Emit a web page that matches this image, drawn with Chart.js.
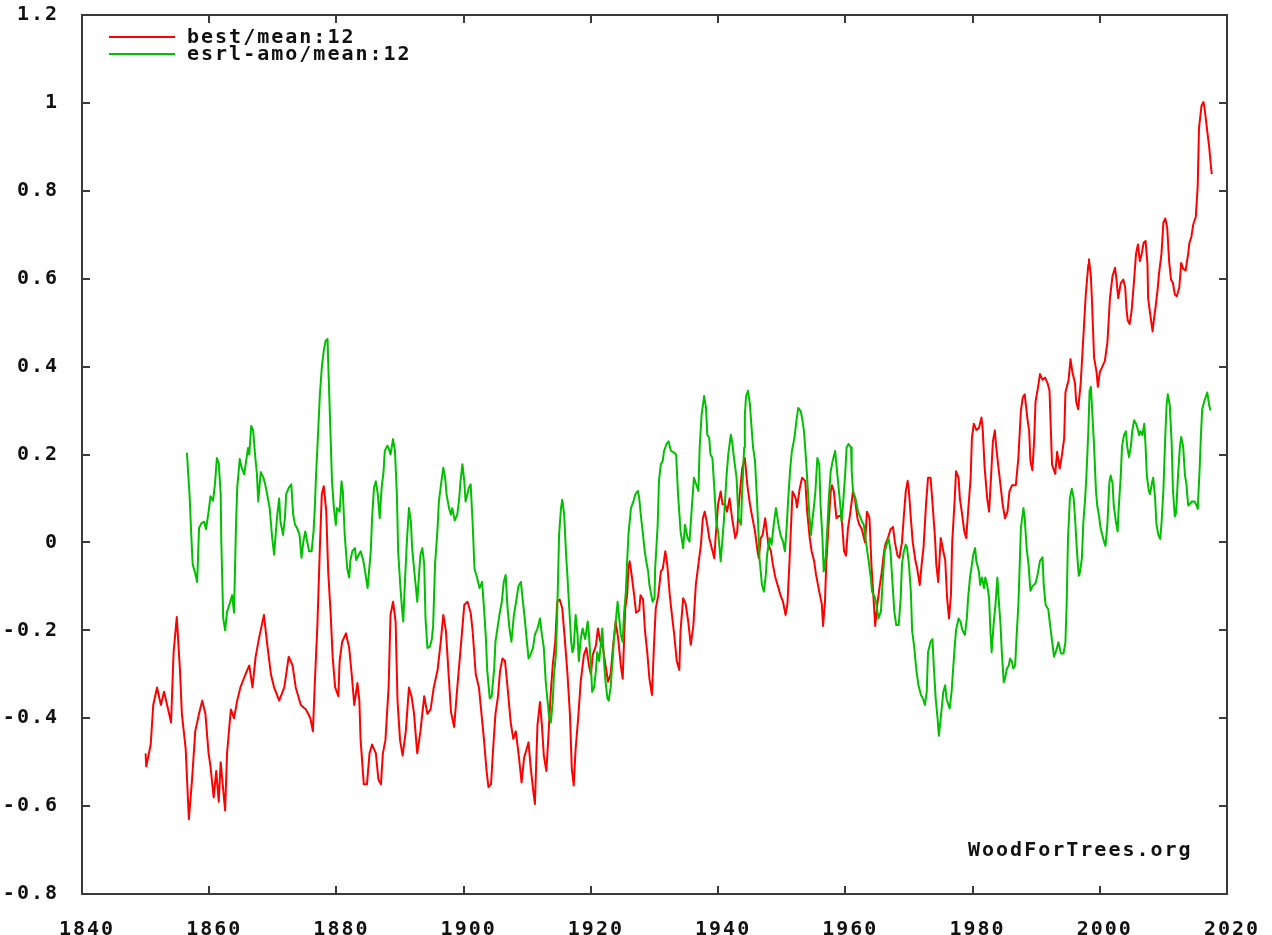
<!DOCTYPE html>
<html>
<head>
<meta charset="utf-8">
<title>best/mean:12 and esrl-amo/mean:12</title>
<script src="https://cdn.jsdelivr.net/npm/chart.js"></script>
<style>
  html, body { margin: 0; padding: 0; background: #ffffff; }
  #c { display: block; }
</style>
</head>
<body>
<canvas id="c" width="1272" height="935"></canvas>
<script>
// ---- Series 1: best/mean:12 (years, values) ----
const bestYears = [
  1850.0,1850.1,1850.8,1851.2,1851.8,1852.4,1852.9,1853.7,1854.0,1854.4,1854.9,1855.4,1855.7,1856.3,1856.8,1857.3,1857.8,1858.4,1858.9,1859.4,1859.9,
  1860.2,1860.7,1861.1,1861.5,1861.8,1862.5,1862.8,1863.4,1863.9,1864.4,1864.9,1865.7,1866.3,1866.8,1867.3,1867.8,1868.6,1869.1,1869.7,
  1870.2,1871.0,1871.8,1872.5,1873.1,1873.6,1874.4,1875.2,1875.9,1876.3,1876.6,1877.0,1877.4,1877.7,1878.0,1878.4,1878.7,1879.1,1879.4,1879.8,
  1880.3,1880.5,1880.9,1881.5,1882.0,1882.4,1882.8,1883.3,1883.6,1883.8,1884.3,1884.8,1885.2,1885.6,1886.2,1886.6,1887.0,1887.3,1887.7,1888.2,1888.5,1888.9,1889.3,1889.6,
  1890.0,1890.4,1890.9,1891.4,1891.8,1892.2,1892.7,1893.2,1893.8,1894.3,1894.8,1895.3,1895.9,1896.4,1896.8,1897.2,1897.4,1898.0,1898.5,1899.0,1899.5,
  1900.1,1900.6,1901.1,1901.4,1901.9,1902.4,1903.2,1903.6,1903.9,1904.3,1904.6,1905.0,1905.4,1905.7,1906.1,1906.5,1906.9,1907.4,1907.8,1908.2,1908.7,1909.1,1909.5,
  1910.2,1910.5,1910.9,1911.2,1911.6,1912.0,1912.3,1912.6,1913.0,1913.3,1913.7,1914.0,1914.4,1914.7,1915.1,1915.5,1915.9,1916.3,1916.7,1917.0,1917.3,1917.6,1918.0,1918.4,1918.9,1919.3,1919.7,
  1920.0,1920.3,1920.8,1921.1,1921.5,1921.9,1922.3,1922.7,1923.1,1923.5,1923.9,1924.3,1924.7,1925.0,1925.4,1925.7,1925.9,1926.1,1926.4,1926.8,1927.1,1927.6,1927.8,1928.2,1928.5,1928.9,1929.2,1929.6,1929.9,
  1930.2,1930.6,1931.0,1931.3,1931.7,1932.0,1932.4,1932.7,1933.1,1933.5,1933.9,1934.1,1934.5,1934.9,1935.3,1935.7,1936.1,1936.5,1936.9,1937.3,1937.6,1937.9,1938.3,1938.6,1939.0,1939.4,1939.6,
  1940.0,1940.4,1940.7,1941.1,1941.4,1941.8,1942.2,1942.7,1943.0,1943.3,1943.6,1943.8,1944.2,1944.6,1945.0,1945.4,1945.8,1946.2,1946.4,1946.7,1947.0,1947.4,1947.9,1948.3,1948.6,1949.0,1949.5,1949.8,
  1950.2,1950.6,1950.9,1951.2,1951.5,1951.7,1952.2,1952.4,1952.8,1953.2,1953.7,1954.0,1954.4,1954.7,1955.1,1955.4,1955.9,1956.3,1956.5,1956.8,1957.0,1957.3,1957.7,1957.9,1958.2,1958.6,1959.0,1959.4,1959.8,
  1960.1,1960.4,1960.8,1961.2,1961.5,1961.9,1962.2,1962.6,1963.1,1963.4,1963.8,1964.1,1964.4,1964.7,1965.0,1965.4,1965.7,1966.1,1966.3,1966.7,1967.1,1967.5,1967.8,1968.2,1968.5,1968.9,1969.2,1969.5,1969.8,
  1970.0,1970.3,1970.6,1971.0,1971.3,1971.7,1972.0,1972.3,1972.7,1973.0,1973.4,1973.7,1974.1,1974.3,1974.6,1975.0,1975.4,1975.7,1976.0,1976.3,1976.6,1976.8,1977.2,1977.4,1977.8,1978.0,1978.3,1978.7,1979.0,1979.3,1979.7,1979.9,
  1980.2,1980.6,1981.0,1981.4,1981.6,1981.9,1982.3,1982.6,1982.9,1983.2,1983.5,1983.7,1984.0,1984.4,1984.7,1985.1,1985.5,1985.8,1986.2,1986.8,1987.2,1987.6,1987.9,1988.2,1988.6,1988.9,1989.1,1989.4,1989.7,1989.9,
  1990.3,1990.6,1991.0,1991.4,1991.8,1992.1,1992.3,1992.5,1993.0,1993.3,1993.7,1994.0,1994.4,1994.6,1995.1,1995.4,1995.7,1996.1,1996.3,1996.6,1997.0,1997.4,1997.8,1998.2,1998.3,1998.6,1998.8,1999.1,1999.5,1999.7,
  2000.0,2000.4,2000.8,2001.2,2001.6,2002.0,2002.4,2002.6,2002.9,2003.3,2003.7,2004.0,2004.2,2004.4,2004.7,2005.0,2005.4,2005.7,2006.0,2006.3,2006.6,2006.9,2007.2,2007.5,2007.6,2007.9,2008.3,2008.5,2008.8,2009.1,2009.3,2009.7,
  2010.0,2010.3,2010.6,2010.9,2011.2,2011.5,2011.8,2012.1,2012.5,2012.8,2013.1,2013.5,2013.9,2014.1,2014.4,2014.7,2015.1,2015.4,2015.6,2016.0,2016.3,2016.5,2016.9,2017.2,2017.4,2017.6
];
const bestValues = [
  -0.48,-0.51,-0.46,-0.37,-0.33,-0.37,-0.34,-0.39,-0.41,-0.25,-0.17,-0.29,-0.39,-0.47,-0.63,-0.54,-0.43,-0.39,-0.36,-0.39,-0.48,
  -0.51,-0.58,-0.52,-0.59,-0.50,-0.61,-0.48,-0.38,-0.40,-0.36,-0.33,-0.30,-0.28,-0.33,-0.26,-0.22,-0.165,-0.23,-0.30,
  -0.33,-0.36,-0.33,-0.26,-0.28,-0.33,-0.37,-0.38,-0.40,-0.43,-0.32,-0.19,-0.01,0.11,0.128,0.07,-0.066,-0.165,-0.26,-0.33,
  -0.35,-0.27,-0.226,-0.207,-0.24,-0.30,-0.37,-0.32,-0.36,-0.45,-0.55,-0.55,-0.48,-0.46,-0.48,-0.54,-0.55,-0.48,-0.45,-0.33,-0.165,-0.135,-0.18,-0.36,
  -0.45,-0.485,-0.43,-0.33,-0.35,-0.39,-0.48,-0.43,-0.35,-0.39,-0.38,-0.33,-0.29,-0.226,-0.165,-0.20,-0.245,-0.385,-0.42,-0.33,-0.245,
  -0.142,-0.135,-0.16,-0.20,-0.30,-0.33,-0.45,-0.52,-0.557,-0.55,-0.477,-0.39,-0.35,-0.295,-0.264,-0.27,-0.33,-0.41,-0.447,-0.43,-0.49,-0.546,-0.49,
  -0.455,-0.507,-0.56,-0.595,-0.416,-0.363,-0.416,-0.485,-0.52,-0.447,-0.34,-0.28,-0.226,-0.135,-0.13,-0.15,-0.22,-0.295,-0.39,-0.515,-0.553,-0.47,-0.40,-0.317,-0.256,-0.24,-0.28,
  -0.30,-0.256,-0.234,-0.196,-0.226,-0.24,-0.28,-0.317,-0.30,-0.234,-0.18,-0.22,-0.28,-0.31,-0.15,-0.12,-0.06,-0.043,-0.073,-0.12,-0.16,-0.155,-0.12,-0.13,-0.20,-0.256,-0.31,-0.347,-0.24,
  -0.15,-0.12,-0.066,-0.06,-0.02,-0.05,-0.12,-0.16,-0.21,-0.27,-0.29,-0.20,-0.127,-0.14,-0.18,-0.233,-0.19,-0.096,-0.05,-0.005,0.055,0.07,0.04,0.01,-0.013,-0.036,0.01,
  0.087,0.116,0.087,0.087,0.07,0.10,0.055,0.01,0.024,0.094,0.14,0.17,0.192,0.13,0.087,0.055,0.025,-0.02,-0.036,0.01,0.017,0.055,-0.005,-0.02,-0.05,-0.08,-0.104,-0.12,
  -0.135,-0.165,-0.14,-0.05,0.05,0.116,0.10,0.08,0.12,0.147,0.14,0.07,0.01,-0.02,-0.043,-0.074,-0.112,-0.14,-0.19,-0.135,-0.05,0.025,0.116,0.13,0.116,0.055,0.06,0.06,-0.02,
  -0.03,0.03,0.07,0.116,0.10,0.055,0.04,0.03,0.0,0.07,0.055,-0.05,-0.12,-0.19,-0.145,-0.10,-0.07,-0.02,-0.004,0.01,0.03,0.035,0.0,-0.03,-0.035,0.0,0.06,0.116,0.14,
  0.116,0.055,0.0,-0.04,-0.06,-0.097,-0.05,-0.01,0.09,0.147,0.147,0.09,0.01,-0.05,-0.09,0.01,-0.02,-0.04,-0.127,-0.173,-0.12,0.0,0.10,0.162,0.147,0.10,0.07,0.025,0.01,0.07,0.147,0.238,
  0.27,0.256,0.26,0.284,0.256,0.17,0.10,0.07,0.147,0.23,0.255,0.22,0.18,0.13,0.09,0.055,0.07,0.116,0.13,0.13,0.192,0.30,0.33,0.337,0.284,0.253,0.185,0.164,0.236,0.32,
  0.354,0.383,0.37,0.375,0.362,0.345,0.26,0.177,0.156,0.206,0.168,0.194,0.236,0.341,0.37,0.417,0.387,0.362,0.32,0.303,0.362,0.463,0.564,0.632,0.644,0.606,0.539,0.421,0.387,0.354,
  0.387,0.40,0.413,0.455,0.556,0.606,0.625,0.602,0.556,0.59,0.598,0.58,0.53,0.505,0.497,0.526,0.598,0.657,0.678,0.64,0.657,0.682,0.686,0.632,0.556,0.522,0.48,0.505,0.539,0.577,0.61,0.657,
  0.728,0.737,0.716,0.64,0.598,0.59,0.564,0.56,0.58,0.636,0.623,0.619,0.657,0.682,0.695,0.724,0.741,0.813,0.943,0.994,1.002,0.985,0.935,0.90,0.867,0.838
];

// ---- Series 2: esrl-amo/mean:12 (years, values) ----
const amoYears = [
  1856.5,1856.7,1856.9,1857.2,1857.4,1857.8,1858.1,1858.4,1858.8,1859.2,1859.5,1859.9,
  1860.2,1860.6,1860.9,1861.2,1861.5,1861.8,1861.9,1862.2,1862.5,1862.8,1863.2,1863.6,1863.9,1864.2,1864.4,1864.8,1865.1,1865.5,1865.8,1866.1,1866.3,1866.6,1866.9,1867.2,1867.5,1867.7,1868.1,1868.5,1868.8,1869.1,1869.5,1869.9,
  1870.2,1870.4,1870.7,1871.0,1871.2,1871.6,1871.9,1872.1,1872.5,1872.9,1873.2,1873.5,1873.8,1874.2,1874.5,1874.8,1875.1,1875.4,1875.7,1876.1,1876.4,1876.6,1876.8,1877.1,1877.4,1877.7,1878.0,1878.3,1878.6,1878.7,1879.0,1879.3,1879.6,1879.9,
  1880.1,1880.5,1880.8,1881.0,1881.3,1881.7,1882.0,1882.2,1882.5,1882.9,1883.1,1883.5,1883.8,1884.2,1884.5,1884.9,1885.1,1885.4,1885.6,1885.9,1886.2,1886.5,1886.8,1887.1,1887.4,1887.6,1888.0,1888.2,1888.5,1888.9,1889.2,1889.5,1889.7,
  1890.0,1890.3,1890.5,1890.8,1891.1,1891.4,1891.7,1891.9,1892.2,1892.5,1892.7,1893.0,1893.2,1893.5,1893.8,1894.0,1894.3,1894.7,1895.0,1895.2,1895.5,1895.9,1896.1,1896.5,1896.8,1897.1,1897.3,1897.7,1898.0,1898.2,1898.6,1899.0,1899.3,1899.5,1899.8,
  1900.1,1900.3,1900.6,1900.8,1901.1,1901.4,1901.7,1902.1,1902.5,1902.9,1903.2,1903.5,1903.7,1904.1,1904.4,1904.8,1905.0,1905.3,1905.7,1906.0,1906.3,1906.6,1906.9,1907.2,1907.5,1907.9,1908.3,1908.6,1909.0,1909.2,1909.6,1909.9,
  1910.2,1910.5,1910.9,1911.2,1911.6,1912.0,1912.3,1912.6,1912.9,1913.2,1913.4,1913.7,1914.0,1914.2,1914.5,1914.7,1915.0,1915.3,1915.5,1915.8,1916.1,1916.3,1916.6,1916.9,1917.1,1917.3,1917.6,1917.9,1918.1,1918.4,1918.7,1919.1,1919.5,1919.7,
  1920.0,1920.2,1920.5,1920.8,1921.0,1921.3,1921.5,1921.8,1922.1,1922.3,1922.6,1922.8,1923.1,1923.4,1923.6,1923.9,1924.2,1924.4,1924.7,1925.0,1925.2,1925.5,1925.7,1925.9,1926.3,1926.7,1927.0,1927.4,1927.6,1927.9,1928.2,1928.4,1928.7,1929.0,1929.2,1929.5,1929.7,
  1930.0,1930.1,1930.5,1930.7,1931.0,1931.3,1931.5,1931.9,1932.2,1932.6,1933.0,1933.4,1933.7,1934.1,1934.5,1934.8,1935.2,1935.5,1935.9,1936.2,1936.6,1936.9,1937.1,1937.4,1937.8,1938.1,1938.3,1938.6,1938.8,1939.1,1939.4,1939.7,
  1940.0,1940.4,1940.7,1940.9,1941.3,1941.6,1942.0,1942.2,1942.5,1942.9,1943.2,1943.6,1943.8,1944.1,1944.2,1944.4,1944.7,1945.0,1945.3,1945.5,1945.8,1946.1,1946.3,1946.5,1946.9,1947.2,1947.5,1947.7,1948.1,1948.4,1948.8,1949.1,1949.5,1949.8,
  1950.2,1950.5,1950.8,1951.0,1951.3,1951.6,1952.0,1952.3,1952.6,1953.0,1953.2,1953.5,1953.8,1954.0,1954.3,1954.6,1954.8,1955.1,1955.3,1955.6,1955.9,1956.1,1956.4,1956.6,1956.9,1957.2,1957.4,1957.7,1958.0,1958.4,1958.6,1958.9,1959.2,1959.4,1959.6,
  1960.0,1960.2,1960.5,1960.9,1961.0,1961.2,1961.6,1962.0,1962.6,1962.9,1963.3,1963.6,1964.0,1964.2,1964.7,1964.9,1965.2,1965.6,1965.9,1966.2,1966.5,1966.8,1967.1,1967.4,1967.7,1968.0,1968.4,1968.7,1968.9,1969.2,1969.5,1969.7,
  1970.0,1970.3,1970.5,1970.8,1971.2,1971.5,1971.9,1972.2,1972.5,1972.8,1973.0,1973.4,1973.7,1973.9,1974.2,1974.5,1974.7,1975.0,1975.4,1975.7,1975.9,1976.2,1976.4,1976.7,1977.1,1977.4,1977.8,1978.1,1978.4,1978.8,1979.1,1979.3,1979.6,1979.9,
  1980.1,1980.4,1980.6,1981.0,1981.2,1981.5,1981.8,1982.0,1982.3,1982.6,1982.8,1983.0,1983.3,1983.6,1983.9,1984.1,1984.4,1984.6,1984.9,1985.1,1985.4,1985.7,1985.9,1986.2,1986.4,1986.7,1986.9,1987.2,1987.4,1987.6,1988.0,1988.2,1988.5,1988.8,1989.1,1989.4,1989.9,
  1990.2,1990.6,1991.0,1991.2,1991.5,1991.9,1992.3,1992.6,1992.8,1993.2,1993.5,1993.9,1994.3,1994.6,1994.8,1995.0,1995.3,1995.6,1995.9,1996.1,1996.4,1996.7,1996.9,1997.2,1997.4,1997.7,1997.9,1998.2,1998.4,1998.6,1998.8,1999.1,1999.4,1999.6,1999.9,
  2000.1,2000.4,2000.7,2000.9,2001.2,2001.5,2001.7,2002.0,2002.2,2002.5,2002.8,2003.0,2003.3,2003.5,2003.8,2004.1,2004.3,2004.6,2004.9,2005.1,2005.4,2005.7,2005.9,2006.2,2006.4,2006.7,2007.0,2007.2,2007.4,2007.7,2007.9,2008.2,2008.4,2008.7,2008.9,2009.2,2009.5,2009.7,
  2010.0,2010.3,2010.5,2010.7,2011.0,2011.3,2011.5,2011.8,2012.0,2012.3,2012.6,2012.8,2013.1,2013.4,2013.6,2013.9,2014.2,2014.5,2014.9,2015.1,2015.4,2015.7,2015.9,2016.1,2016.4,2016.7,2016.9,2017.2,2017.4
];
const amoValues = [
  0.204,0.155,0.11,0.01,-0.05,-0.07,-0.09,0.033,0.044,0.047,0.03,0.07,
  0.105,0.095,0.132,0.192,0.18,0.11,0.002,-0.173,-0.20,-0.158,-0.14,-0.12,-0.16,0.033,0.124,0.19,0.17,0.155,0.185,0.215,0.20,0.265,0.255,0.20,0.155,0.093,0.16,0.148,0.132,0.11,0.078,0.01,
  -0.028,0.01,0.063,0.10,0.047,0.017,0.055,0.11,0.124,0.132,0.063,0.04,0.033,0.017,-0.035,0.002,0.025,0.002,-0.02,-0.02,0.025,0.078,0.155,0.245,0.337,0.398,0.436,0.459,0.463,0.413,0.276,0.139,0.078,0.04,
  0.078,0.07,0.139,0.117,0.017,-0.06,-0.08,-0.04,-0.02,-0.013,-0.04,-0.028,-0.02,-0.04,-0.066,-0.104,-0.07,-0.02,0.055,0.124,0.139,0.11,0.055,0.124,0.16,0.208,0.22,0.215,0.20,0.235,0.208,0.11,-0.02,
  -0.09,-0.15,-0.18,-0.08,0.01,0.078,0.047,-0.013,-0.06,-0.104,-0.135,-0.07,-0.028,-0.013,-0.05,-0.173,-0.24,-0.237,-0.22,-0.19,-0.05,0.033,0.093,0.139,0.17,0.146,0.11,0.078,0.063,0.078,0.05,0.063,0.10,0.139,0.178,
  0.139,0.093,0.11,0.124,0.132,0.047,-0.06,-0.08,-0.104,-0.09,-0.15,-0.22,-0.29,-0.355,-0.35,-0.287,-0.226,-0.196,-0.158,-0.135,-0.09,-0.074,-0.15,-0.196,-0.226,-0.165,-0.13,-0.10,-0.09,-0.12,-0.173,-0.22,
  -0.264,-0.256,-0.24,-0.21,-0.196,-0.173,-0.21,-0.24,-0.317,-0.363,-0.393,-0.41,-0.363,-0.30,-0.256,-0.165,0.017,0.078,0.097,0.063,-0.028,-0.074,-0.15,-0.226,-0.25,-0.24,-0.165,-0.21,-0.27,-0.22,-0.196,-0.22,-0.18,-0.21,
  -0.28,-0.34,-0.33,-0.29,-0.25,-0.27,-0.24,-0.196,-0.28,-0.317,-0.355,-0.36,-0.33,-0.27,-0.226,-0.18,-0.135,-0.165,-0.21,-0.226,-0.165,-0.11,-0.043,0.017,0.078,0.094,0.11,0.117,0.10,0.055,0.017,-0.013,-0.043,-0.066,-0.097,-0.12,-0.135,
  -0.127,-0.06,0.04,0.14,0.178,0.186,0.208,0.224,0.23,0.208,0.205,0.2,0.11,0.025,-0.013,0.04,0.01,0.002,0.086,0.147,0.13,0.117,0.216,0.29,0.333,0.306,0.245,0.238,0.20,0.192,0.124,0.048,
  0.025,-0.043,0.01,0.048,0.147,0.20,0.245,0.23,0.192,0.147,0.055,0.04,0.124,0.216,0.29,0.333,0.345,0.314,0.253,0.216,0.185,0.10,0.04,-0.036,-0.097,-0.112,-0.074,-0.028,0.01,-0.005,0.048,0.078,0.04,0.017,
  0.002,-0.02,0.04,0.094,0.162,0.208,0.238,0.276,0.306,0.298,0.283,0.253,0.192,0.147,0.07,0.017,0.048,0.086,0.117,0.192,0.177,0.086,0.01,-0.066,-0.036,0.04,0.10,0.162,0.185,0.208,0.177,0.131,0.086,0.048,0.078,
  0.162,0.216,0.224,0.216,0.162,0.117,0.10,0.07,0.048,0.04,-0.005,-0.035,-0.08,-0.112,-0.127,-0.142,-0.173,-0.157,-0.08,-0.02,-0.005,0.01,-0.02,-0.09,-0.157,-0.188,-0.188,-0.127,-0.05,-0.02,-0.005,-0.013,
  -0.05,-0.112,-0.20,-0.235,-0.295,-0.325,-0.348,-0.355,-0.37,-0.34,-0.25,-0.226,-0.22,-0.28,-0.355,-0.40,-0.44,-0.40,-0.34,-0.325,-0.355,-0.37,-0.378,-0.34,-0.256,-0.20,-0.173,-0.18,-0.20,-0.21,-0.173,-0.127,-0.08,-0.05,
  -0.028,-0.013,-0.043,-0.066,-0.097,-0.08,-0.104,-0.08,-0.097,-0.127,-0.20,-0.25,-0.188,-0.142,-0.08,-0.127,-0.188,-0.25,-0.318,-0.31,-0.287,-0.28,-0.264,-0.272,-0.287,-0.28,-0.22,-0.142,-0.058,0.033,0.078,0.055,-0.013,-0.05,-0.11,-0.10,-0.093,
  -0.075,-0.042,-0.034,-0.10,-0.143,-0.152,-0.202,-0.236,-0.26,-0.244,-0.227,-0.253,-0.253,-0.227,-0.135,0.008,0.10,0.122,0.10,0.059,-0.017,-0.076,-0.067,-0.034,0.042,0.10,0.152,0.253,0.345,0.354,0.303,0.219,0.118,0.084,0.059,
  0.034,0.017,0.0,-0.008,0.042,0.135,0.152,0.135,0.084,0.05,0.025,0.084,0.152,0.219,0.244,0.253,0.219,0.194,0.219,0.253,0.278,0.27,0.261,0.244,0.253,0.244,0.27,0.219,0.152,0.118,0.11,0.135,0.147,0.10,0.042,0.017,0.008,0.042,
  0.118,0.244,0.312,0.337,0.312,0.227,0.118,0.059,0.067,0.152,0.219,0.24,0.219,0.152,0.135,0.084,0.088,0.093,0.093,0.088,0.076,0.168,0.244,0.303,0.32,0.333,0.341,0.312,0.30
];

// ---- Labels and axis settings ----
const seriesLabels = ['best/mean:12', 'esrl-amo/mean:12'];
const seriesColors = ['#ff0000', '#00c000'];
const xRange = [1840, 2020];
const xStep = 20;
const yRange = [-0.8, 1.2];
const yStep = 0.2;
const watermarkText = 'WoodForTrees.org';

const FONT_FAMILY = '"DejaVu Sans Mono", "Liberation Mono", monospace';
const TEXT_COLOR = '#111111';
const FRAME_COLOR = '#3a3a3a';

Chart.defaults.font.family = FONT_FAMILY;
Chart.defaults.font.size = 20;
Chart.defaults.font.weight = 'bold';
Chart.defaults.color = TEXT_COLOR;

const toPoints = (xs, ys) => xs.map((x, i) => ({ x: x, y: ys[i] }));

const framePlugin = {
  id: 'framePlugin',
  beforeDraw(chart) {
    chart.ctx.letterSpacing = '2px';
  },
  afterDraw(chart) {
    const ctx = chart.ctx;
    const a = chart.chartArea;
    const xs = chart.scales.x;
    const ys = chart.scales.y;
    ctx.save();
    // inward tick marks on all four sides
    ctx.strokeStyle = FRAME_COLOR;
    ctx.lineWidth = 2;
    ctx.beginPath();
    xs.ticks.forEach(t => {
      const px = Math.round(xs.getPixelForValue(t.value));
      if (px <= a.left + 2 || px >= a.right - 2) return;
      ctx.moveTo(px, a.bottom); ctx.lineTo(px, a.bottom - 8);
      ctx.moveTo(px, a.top); ctx.lineTo(px, a.top + 8);
    });
    ys.ticks.forEach(t => {
      const py = Math.round(ys.getPixelForValue(t.value));
      if (py <= a.top + 2 || py >= a.bottom - 2) return;
      ctx.moveTo(a.left, py); ctx.lineTo(a.left + 8, py);
      ctx.moveTo(a.right, py); ctx.lineTo(a.right - 8, py);
    });
    ctx.stroke();
    // frame
    ctx.strokeRect(a.left, a.top, a.right - a.left, a.bottom - a.top);

    // legend (top-left inside the plot)
    ctx.font = 'bold 20px ' + FONT_FAMILY;
    ctx.letterSpacing = '2px';
    ctx.textBaseline = 'middle';
    ctx.textAlign = 'left';
    chart.data.datasets.forEach((ds, i) => {
      const ly = a.top + 22 + i * 17;
      ctx.strokeStyle = ds.borderColor;
      ctx.lineWidth = 2;
      ctx.beginPath();
      ctx.moveTo(a.left + 27, ly);
      ctx.lineTo(a.left + 93, ly);
      ctx.stroke();
      ctx.fillStyle = TEXT_COLOR;
      ctx.fillText(ds.label, a.left + 105, ly + 1);
    });

    // watermark
    ctx.fillStyle = TEXT_COLOR;
    ctx.fillText(watermarkText, a.right - 259, a.bottom - 43);
    ctx.restore();
  }
};

new Chart(document.getElementById('c'), {
  type: 'line',
  data: {
    datasets: [
      {
        label: seriesLabels[0],
        data: toPoints(bestYears, bestValues),
        borderColor: seriesColors[0],
        backgroundColor: seriesColors[0],
        borderWidth: 2,
        pointRadius: 0,
        tension: 0,
        fill: false,
        borderJoinStyle: 'round',
        order: 1
      },
      {
        label: seriesLabels[1],
        data: toPoints(amoYears, amoValues),
        borderColor: seriesColors[1],
        backgroundColor: seriesColors[1],
        borderWidth: 2,
        pointRadius: 0,
        tension: 0,
        fill: false,
        borderJoinStyle: 'round',
        order: 0
      }
    ]
  },
  options: {
    responsive: false,
    animation: false,
    devicePixelRatio: 1,
    layout: { padding: { top: 15, right: 45, bottom: 0, left: 0 } },
    plugins: {
      legend: { display: false },
      tooltip: { enabled: false },
      title: { display: false }
    },
    scales: {
      x: {
        type: 'linear',
        min: xRange[0],
        max: xRange[1],
        grid: { display: false },
        border: { display: false },
        ticks: {
          stepSize: xStep,
          autoSkip: false,
          maxRotation: 0,
          padding: 16,
          labelOffset: 5,
          color: TEXT_COLOR,
          callback: v => String(v)
        },
        afterFit: s => { s.height = 41; s.paddingLeft = 0; s.paddingRight = 0; }
      },
      y: {
        type: 'linear',
        min: yRange[0],
        max: yRange[1],
        grid: { display: false },
        border: { display: false },
        ticks: {
          stepSize: yStep,
          autoSkip: false,
          padding: 15,
          color: TEXT_COLOR,
          callback: v => String(Math.round(v * 10) / 10)
        },
        afterFit: s => { s.width = 82; s.paddingTop = 0; s.paddingBottom = 0; }
      }
    }
  },
  plugins: [framePlugin]
});
</script>
</body>
</html>
